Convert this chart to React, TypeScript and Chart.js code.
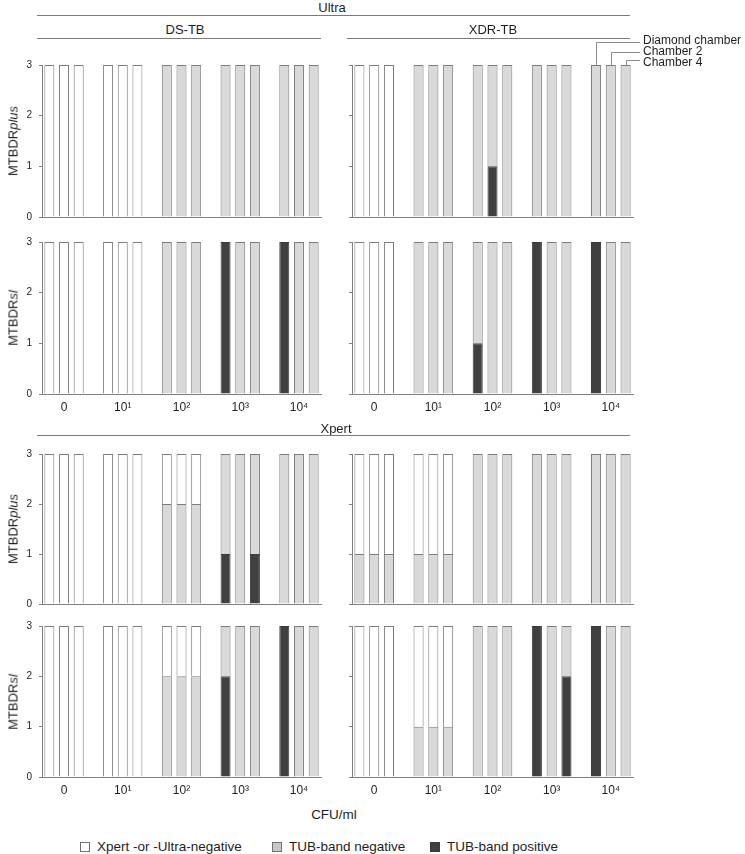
import React, { useEffect, useRef } from "react";
import { Chart, registerables } from "chart.js";

Chart.register(...registerables);

// ---------- data ----------
const doseGroups = ["0", "10¹", "10²", "10³", "10⁴"];
const chamberNames = ["Diamond chamber", "Chamber 2", "Chamber 4"];
const legendLabels = ["Xpert -or -Ultra-negative", "TUB-band negative", "TUB-band positive"];
const yMax = 3;

// values per bar: group-major (0, 10¹ ... 10⁴), chamber-minor (Diamond, Chamber 2, Chamber 4)
// Ultra – DS-TB – MTBDRplus
const ultraDsPlusPos = [0, 0, 0, 0, 0, 0, 0, 0, 0, 0, 0, 0, 0, 0, 0];
const ultraDsPlusNeg = [0, 0, 0, 0, 0, 0, 3, 3, 3, 3, 3, 3, 3, 3, 3];
const ultraDsPlusNegX = [3, 3, 3, 3, 3, 3, 0, 0, 0, 0, 0, 0, 0, 0, 0];
// Ultra – XDR-TB – MTBDRplus
const ultraXdrPlusPos = [0, 0, 0, 0, 0, 0, 0, 1, 0, 0, 0, 0, 0, 0, 0];
const ultraXdrPlusNeg = [0, 0, 0, 3, 3, 3, 3, 2, 3, 3, 3, 3, 3, 3, 3];
const ultraXdrPlusNegX = [3, 3, 3, 0, 0, 0, 0, 0, 0, 0, 0, 0, 0, 0, 0];
// Ultra – DS-TB – MTBDRsl
const ultraDsSlPos = [0, 0, 0, 0, 0, 0, 0, 0, 0, 3, 0, 0, 3, 0, 0];
const ultraDsSlNeg = [0, 0, 0, 0, 0, 0, 3, 3, 3, 0, 3, 3, 0, 3, 3];
const ultraDsSlNegX = [3, 3, 3, 3, 3, 3, 0, 0, 0, 0, 0, 0, 0, 0, 0];
// Ultra – XDR-TB – MTBDRsl
const ultraXdrSlPos = [0, 0, 0, 0, 0, 0, 1, 0, 0, 3, 0, 0, 3, 0, 0];
const ultraXdrSlNeg = [0, 0, 0, 3, 3, 3, 2, 3, 3, 0, 3, 3, 0, 3, 3];
const ultraXdrSlNegX = [3, 3, 3, 0, 0, 0, 0, 0, 0, 0, 0, 0, 0, 0, 0];
// Xpert – DS-TB – MTBDRplus
const xpertDsPlusPos = [0, 0, 0, 0, 0, 0, 0, 0, 0, 1, 0, 1, 0, 0, 0];
const xpertDsPlusNeg = [0, 0, 0, 0, 0, 0, 2, 2, 2, 2, 3, 2, 3, 3, 3];
const xpertDsPlusNegX = [3, 3, 3, 3, 3, 3, 1, 1, 1, 0, 0, 0, 0, 0, 0];
// Xpert – XDR-TB – MTBDRplus
const xpertXdrPlusPos = [0, 0, 0, 0, 0, 0, 0, 0, 0, 0, 0, 0, 0, 0, 0];
const xpertXdrPlusNeg = [1, 1, 1, 1, 1, 1, 3, 3, 3, 3, 3, 3, 3, 3, 3];
const xpertXdrPlusNegX = [2, 2, 2, 2, 2, 2, 0, 0, 0, 0, 0, 0, 0, 0, 0];
// Xpert – DS-TB – MTBDRsl
const xpertDsSlPos = [0, 0, 0, 0, 0, 0, 0, 0, 0, 2, 0, 0, 3, 0, 0];
const xpertDsSlNeg = [0, 0, 0, 0, 0, 0, 2, 2, 2, 1, 3, 3, 0, 3, 3];
const xpertDsSlNegX = [3, 3, 3, 3, 3, 3, 1, 1, 1, 0, 0, 0, 0, 0, 0];
// Xpert – XDR-TB – MTBDRsl
const xpertXdrSlPos = [0, 0, 0, 0, 0, 0, 0, 0, 0, 3, 0, 2, 3, 0, 0];
const xpertXdrSlNeg = [0, 0, 0, 1, 1, 1, 3, 3, 3, 0, 3, 1, 0, 3, 3];
const xpertXdrSlNegX = [3, 3, 3, 2, 2, 2, 0, 0, 0, 0, 0, 0, 0, 0, 0];

// ---------- styling ----------
const FONT = '"Liberation Sans", Arial, Helvetica, sans-serif';
const TEXT = "#1e1e1e";
const AXIS = "#808080";
const FILL_X = "#ffffff";
const FILL_NEG = "#d9d9d9";
const FILL_POS = "#404040";
const BORDER_LIGHT = "#7c7c7c";

const SLOTS = 19; // 5 groups x 3 bars + 4 gaps

function slotLabels(): string[] {
  const out: string[] = [];
  for (let s = 0; s < SLOTS; s++) {
    const g = Math.floor(s / 4);
    const c = s % 4;
    out.push(c === 1 && g < doseGroups.length ? doseGroups[g] : "");
  }
  return out;
}

function toSlots(vals: number[]): (number | null)[] {
  const out: (number | null)[] = new Array(SLOTS).fill(null);
  vals.forEach((v, i) => {
    const s = Math.floor(i / 3) * 4 + (i % 3);
    out[s] = v === 0 ? null : v;
  });
  return out;
}

const chamberCallout = {
  id: "chamberCallout",
  afterDraw(chart: any) {
    const opts = chart.options.plugins.chamberCallout;
    if (!opts || !opts.enabled) return;
    const xs = chart.scales.x;
    const ys = chart.scales.y;
    const ctx = chart.ctx;
    const top = ys.getPixelForValue(yMax);
    const right = chart.chartArea.right;
    const lineOff = [23, 13, 5];
    const textOff = [24, 13, 2];
    ctx.save();
    ctx.strokeStyle = "#8a8a8a";
    ctx.lineWidth = 1;
    ctx.fillStyle = TEXT;
    ctx.font = `12px ${FONT}`;
    ctx.textBaseline = "middle";
    ctx.textAlign = "left";
    chamberNames.forEach((name, c) => {
      const bx = Math.round(xs.getPixelForValue(16 + c)) + 0.5;
      const ly = Math.round(top - lineOff[c]) + 0.5;
      ctx.beginPath();
      ctx.moveTo(bx, top);
      ctx.lineTo(bx, ly);
      ctx.lineTo(right + 7, ly);
      ctx.stroke();
      ctx.fillText(name, right + 10, top - textOff[c]);
    });
    ctx.restore();
  },
};

type PanelProps = {
  left: number;
  top: number;
  width: number;
  height: number;
  padTop: number;
  padRight: number;
  yAxisW: number;
  xAxisH: number;
  showY: boolean;
  showX: boolean;
  pos: number[];
  neg: number[];
  negX: number[];
  callout?: boolean;
};

function Panel(p: PanelProps) {
  const ref = useRef<HTMLCanvasElement | null>(null);
  useEffect(() => {
    if (!ref.current) return;
    const mk = (label: string, data: number[], fill: string, border: string) => ({
      label,
      data: toSlots(data),
      backgroundColor: fill,
      borderColor: border,
      borderWidth: 1,
      barPercentage: 0.68,
      categoryPercentage: 1,
      stack: "s",
    });
    const chart = new Chart(ref.current, {
      type: "bar",
      data: {
        labels: slotLabels(),
        datasets: [
          mk(legendLabels[2], p.pos, FILL_POS, "#3a3a3a"),
          mk(legendLabels[1], p.neg, FILL_NEG, BORDER_LIGHT),
          mk(legendLabels[0], p.negX, FILL_X, BORDER_LIGHT),
        ],
      },
      options: {
        responsive: false,
        animation: false,
        events: [],
        layout: { padding: { top: p.padTop, right: p.padRight, left: 0, bottom: 0 } },
        plugins: {
          legend: { display: false },
          tooltip: { enabled: false },
          title: { display: false },
          chamberCallout: { enabled: !!p.callout },
        } as any,
        scales: {
          x: {
            type: "category",
            stacked: true,
            offset: true,
            grid: { display: false, drawTicks: false },
            border: { display: true, color: AXIS, width: 1 },
            ticks: {
              display: p.showX,
              autoSkip: false,
              maxRotation: 0,
              minRotation: 0,
              padding: 6,
              color: TEXT,
              font: { family: FONT, size: 12 },
            },
            afterFit: (s: any) => {
              s.height = p.xAxisH;
            },
          },
          y: {
            type: "linear",
            stacked: true,
            min: 0,
            max: yMax,
            grid: { display: true, drawOnChartArea: false, drawTicks: true, tickLength: 3, color: AXIS },
            border: { display: true, color: AXIS, width: 1 },
            ticks: {
              display: p.showY,
              stepSize: 1,
              padding: 7,
              color: TEXT,
              font: { family: FONT, size: 10 },
            },
            afterFit: (s: any) => {
              s.width = p.yAxisW;
            },
          },
        },
      } as any,
      plugins: [chamberCallout],
    });
    return () => chart.destroy();
  }, []);
  return (
    <canvas
      ref={ref}
      width={p.width}
      height={p.height}
      style={{ position: "absolute", left: p.left, top: p.top, width: p.width, height: p.height }}
    />
  );
}

const rows = [
  { plotTop: 65, plotBottom: 217, showX: false, ylab: "plus", ds: [ultraDsPlusPos, ultraDsPlusNeg, ultraDsPlusNegX], xdr: [ultraXdrPlusPos, ultraXdrPlusNeg, ultraXdrPlusNegX] },
  { plotTop: 242, plotBottom: 394, showX: true, ylab: "sl", ds: [ultraDsSlPos, ultraDsSlNeg, ultraDsSlNegX], xdr: [ultraXdrSlPos, ultraXdrSlNeg, ultraXdrSlNegX] },
  { plotTop: 454, plotBottom: 604, showX: false, ylab: "plus", ds: [xpertDsPlusPos, xpertDsPlusNeg, xpertDsPlusNegX], xdr: [xpertXdrPlusPos, xpertXdrPlusNeg, xpertXdrPlusNegX] },
  { plotTop: 626, plotBottom: 777, showX: true, ylab: "sl", ds: [xpertDsSlPos, xpertDsSlNeg, xpertDsSlNegX], xdr: [xpertXdrSlPos, xpertXdrSlNeg, xpertXdrSlNegX] },
];

const txt: React.CSSProperties = { position: "absolute", fontFamily: FONT, color: TEXT, whiteSpace: "nowrap", lineHeight: 1 };

function Centered({ x, y, size, children }: { x: number; y: number; size: number; children: React.ReactNode }) {
  return <div style={{ ...txt, left: x, top: y, fontSize: size, transform: "translate(-50%, -50%)" }}>{children}</div>;
}

function HLine({ x1, x2, y }: { x1: number; x2: number; y: number }) {
  return <div style={{ position: "absolute", left: x1, top: y, width: x2 - x1, height: 1, background: "#7a7a7a" }} />;
}

export default function App() {
  const legendFills = [FILL_X, FILL_NEG, FILL_POS];
  const legendX = [80, 272, 430];
  return (
    <div style={{ position: "absolute", left: 0, top: 0, width: 745, height: 854, background: "#fff", overflow: "hidden" }}>
      {rows.map((r, i) => {
        const padTop = 16;
        const xAxisH = r.showX ? 28 : 16;
        const h = r.plotBottom - r.plotTop;
        const rightPad = i === 0 ? 35 : padTop;
        return (
          <React.Fragment key={i}>
            <Panel
              left={0}
              top={r.plotTop - padTop}
              width={330}
              height={padTop + h + xAxisH}
              padTop={padTop}
              padRight={9}
              yAxisW={42}
              xAxisH={xAxisH}
              showY={true}
              showX={r.showX}
              pos={r.ds[0]}
              neg={r.ds[1]}
              negX={r.ds[2]}
            />
            <Panel
              left={340}
              top={r.plotTop - rightPad}
              width={i === 0 ? 405 : 300}
              height={rightPad + h + xAxisH}
              padTop={rightPad}
              padRight={i === 0 ? 112 : 7}
              yAxisW={12}
              xAxisH={xAxisH}
              showY={false}
              showX={r.showX}
              pos={r.xdr[0]}
              neg={r.xdr[1]}
              negX={r.xdr[2]}
              callout={i === 0}
            />
            <div
              style={{
                ...txt,
                left: 13,
                top: (r.plotTop + r.plotBottom) / 2,
                fontSize: 13,
                transform: "translate(-50%, -50%) rotate(-90deg)",
              }}
            >
              MTBDR<i>{r.ylab}</i>
            </div>
          </React.Fragment>
        );
      })}

      {/* group headers */}
      <Centered x={332} y={7} size={13}>Ultra</Centered>
      <HLine x1={37} x2={630} y={15} />
      <Centered x={185} y={29} size={13}>DS-TB</Centered>
      <HLine x1={37} x2={321} y={38} />
      <Centered x={493} y={29} size={13}>XDR-TB</Centered>
      <HLine x1={347} x2={630} y={38} />
      <Centered x={336} y={428} size={13}>Xpert</Centered>
      <HLine x1={37} x2={630} y={435} />

      <Centered x={334} y={815} size={13.5}>CFU/ml</Centered>

      {/* legend */}
      {legendLabels.map((l, i) => (
        <React.Fragment key={l}>
          <div
            style={{
              position: "absolute",
              left: legendX[i],
              top: 842,
              width: 10,
              height: 10,
              boxSizing: "border-box",
              border: `1px solid ${i === 2 ? "#3a3a3a" : "#707070"}`,
              background: i === 1 ? "#c8c8c8" : legendFills[i],
            }}
          />
          <div style={{ ...txt, left: legendX[i] + 17, top: 847, fontSize: 13.5, transform: "translateY(-50%)" }}>{l}</div>
        </React.Fragment>
      ))}
    </div>
  );
}
